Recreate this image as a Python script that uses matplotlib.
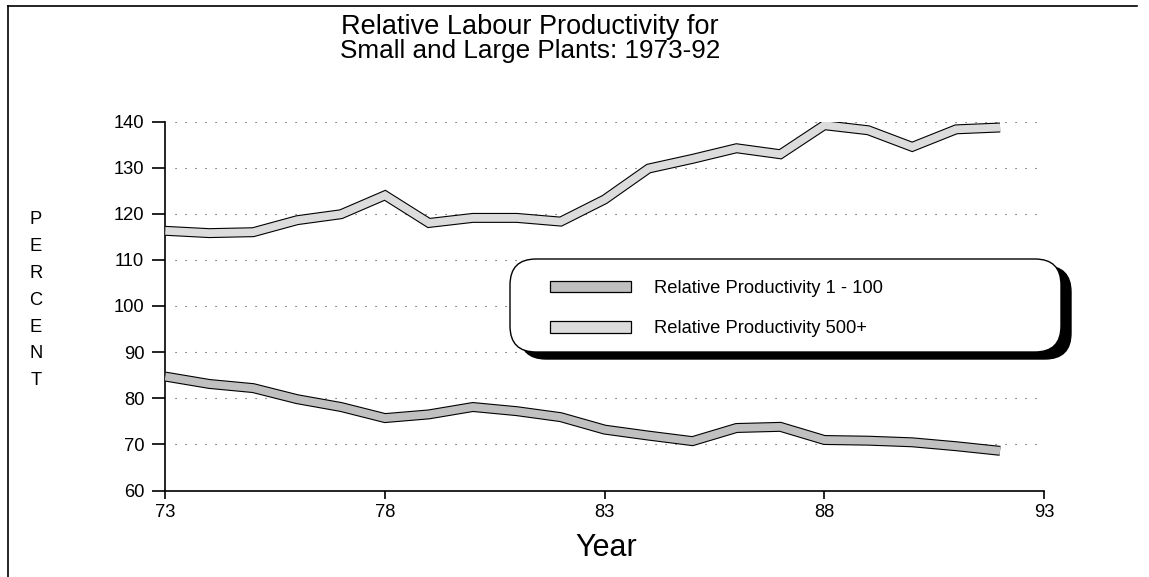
import matplotlib
matplotlib.use("Agg")
import matplotlib.pyplot as plt
import matplotlib.patheffects as pe
from matplotlib.patches import FancyBboxPatch, Patch
from matplotlib.lines import Line2D
from matplotlib.transforms import IdentityTransform

# ---------------- data ----------------
years = list(range(73, 93))
small_plants = [84.7, 83.1, 82.2, 79.8, 78.1, 75.7, 76.5, 78.1, 77.2, 75.9,
                73.2, 71.9, 70.7, 73.55, 73.8, 70.95, 70.8, 70.45, 69.6, 68.6]
large_plants = [116.3, 115.8, 116.0, 118.6, 119.9, 124.0, 118.0, 119.1, 119.1, 118.3,
                123.1, 129.8, 131.9, 134.2, 132.9, 139.2, 138.1, 134.5, 138.3, 138.7]
series_labels = ["Relative Productivity 1 - 100", "Relative Productivity 500+"]
x_ticks = [73, 78, 83, 88, 93]
y_ticks = [60, 70, 80, 90, 100, 110, 120, 130, 140]
title_lines = ["Relative Labour Productivity for", "Small and Large Plants: 1973-92"]
x_label = "Year"
y_label = "PERCENT"

# ---------------- styling ----------------
plt.rcParams["font.family"] = ["Liberation Sans", "DejaVu Sans"]
W, H = 1149, 577
FS = 13.2
col_small = "#c0c0c0"
col_large = "#dcdcdc"


def fx(x):
    return x / W


def fy(y):
    return 1 - y / H


fig = plt.figure(figsize=(W / 100, H / 100), dpi=100)
ax_left, ax_right, ax_top, ax_bot = 165.3, 1044.0, 121.5, 490.5
ax = fig.add_axes([fx(ax_left), fy(ax_bot), (ax_right - ax_left) / W, (ax_bot - ax_top) / H])
ax.set_xlim(73, 93)
ax.set_ylim(60, 140)

# dotted grid lines
ax.hlines(y_ticks[1:], 73.22, 92.84, colors="#444444", linewidth=0.8,
          linestyles=(0, (1, 8)), zorder=1)


def band(yvals, color):
    ax.plot(years, yvals, color=color, linewidth=5.6, solid_capstyle="butt",
            solid_joinstyle="miter", zorder=3,
            path_effects=[pe.Stroke(linewidth=7.2, foreground="black",
                                    capstyle="butt", joinstyle="miter"),
                          pe.Normal()])


band(large_plants, col_large)
band(small_plants, col_small)

ax.set_xticks(x_ticks)
ax.set_xticklabels([str(v) for v in x_ticks])
ax.set_yticks(y_ticks)
ax.set_yticklabels([str(v) for v in y_ticks])
ax.tick_params(axis="x", direction="out", length=5.8, width=1.2, pad=4, labelsize=FS)
ax.tick_params(axis="y", direction="out", length=9.7, width=1.2, pad=5.5, labelsize=FS)
for s in ("top", "right"):
    ax.spines[s].set_visible(False)
for s in ("left", "bottom"):
    ax.spines[s].set_linewidth(1.2)
ax.patch.set_visible(False)

# titles and axis labels
fig.text(fx(530), fy(27), title_lines[0], ha="center", va="center", fontsize=19.5)
fig.text(fx(530), fy(51), title_lines[1], ha="center", va="center", fontsize=18.8)
fig.text(fx(606), fy(548), x_label, ha="center", va="center", fontsize=22)
for i, ch in enumerate(y_label):
    fig.text(fx(36), fy(220 + i * 26.8), ch, ha="center", va="center", fontsize=FS)

# figure border (left and top)
fig.add_artist(Line2D([fx(8), fx(8)], [fy(6), 0], color="black", linewidth=1.2))
fig.add_artist(Line2D([fx(8), fx(1137)], [fy(6), fy(6)], color="black", linewidth=1.2))

# legend box with shadow (display pixels)
bx0, by0, bx1, by1 = 510, 259, 1061, 352
rad = 26
shadow = FancyBboxPatch((bx0 + 10, H - by1 - 7), bx1 - bx0, by1 - by0,
                        boxstyle=f"round,pad=0,rounding_size={rad}",
                        transform=IdentityTransform(), facecolor="black",
                        edgecolor="black", linewidth=1, zorder=5)
box = FancyBboxPatch((bx0, H - by1), bx1 - bx0, by1 - by0,
                     boxstyle=f"round,pad=0,rounding_size={rad}",
                     transform=IdentityTransform(), facecolor="white",
                     edgecolor="black", linewidth=1, zorder=6)
fig.add_artist(shadow)
fig.add_artist(box)

handles = [Patch(facecolor=col_small, edgecolor="black", linewidth=0.9),
           Patch(facecolor=col_large, edgecolor="black", linewidth=0.9)]
leg = fig.legend(handles, series_labels, loc="upper left",
                 bbox_to_anchor=(fx(550), fy(280)), bbox_transform=fig.transFigure,
                 frameon=False, fontsize=FS, borderpad=0, borderaxespad=0,
                 handlelength=4.4, handleheight=0.55, handletextpad=1.3,
                 labelspacing=1.28)
leg.set_zorder(7)

fig.savefig("out.png", dpi=100)
